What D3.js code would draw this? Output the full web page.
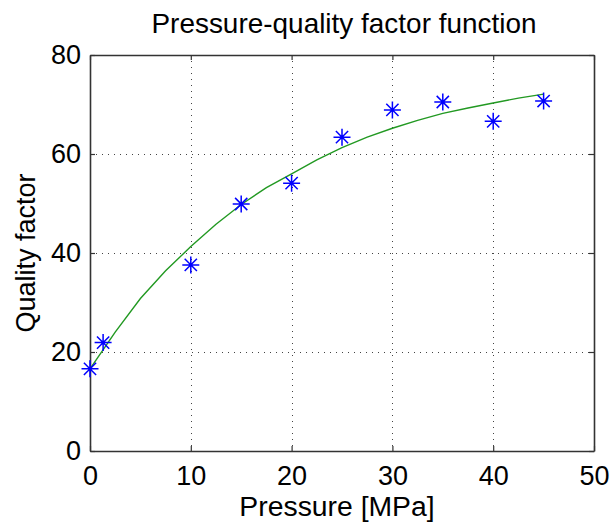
<!DOCTYPE html>
<html>
<head>
<meta charset="utf-8">
<script src="https://cdn.jsdelivr.net/npm/d3@7"></script>
<style>
  html, body { margin: 0; padding: 0; background: #fff; }
  svg { display: block; }
  text { font-family: "Liberation Sans", Arial, Helvetica, sans-serif; fill: #000; }
</style>
</head>
<body>
<svg id="chart" width="611" height="524"></svg>
<script>
// ---- data ----
const measuredPressure = [0, 1.3, 10, 15, 20, 25, 30, 35, 40, 45];
const measuredQuality  = [16.6, 21.9, 37.6, 49.9, 54.1, 63.4, 68.9, 70.5, 66.6, 70.7];
const fitPressure = [0, 2.5, 5, 7.5, 10, 12.5, 15, 17.5, 20, 22.5, 25, 27.5, 30, 32.5, 35, 37.5, 40, 42.5, 45];
const fitQuality  = [16.6, 24.0, 30.8, 36.4, 41.3, 45.8, 49.8, 53.2, 56.0, 58.8, 61.3, 63.4, 65.2, 66.8, 68.2, 69.3, 70.3, 71.3, 72.1];
const xTicks = [0, 10, 20, 30, 40, 50];
const yTicks = [0, 20, 40, 60, 80];
const titleText = "Pressure-quality factor function";
const xLabelText = "Pressure [MPa]";
const yLabelText = "Quality factor";

// ---- layout ----
const svg = d3.select("#chart");
const mLeft = 90, mRight = 594, mTop = 55, mBottom = 451;
const x = d3.scaleLinear().domain([0, 50]).range([mLeft, mRight]);
const y = d3.scaleLinear().domain([0, 80]).range([mBottom, mTop]);
const fontSize = 27;
const axisColor = "#333";
const tickLen = 5;

// grid (dotted)
const grid = svg.append("g");
grid.selectAll("line.gx").data(xTicks.slice(1, -1)).join("line")
  .attr("x1", d => Math.round(x(d)) + 0.5).attr("x2", d => Math.round(x(d)) + 0.5)
  .attr("y1", mTop).attr("y2", mBottom)
  .attr("stroke", "#444").attr("stroke-width", 1).attr("stroke-dasharray", "1,5");
grid.selectAll("line.gy").data(yTicks.slice(1, -1)).join("line")
  .attr("y1", d => Math.round(y(d)) + 0.5).attr("y2", d => Math.round(y(d)) + 0.5)
  .attr("x1", mLeft).attr("x2", mRight)
  .attr("stroke", "#444").attr("stroke-width", 1).attr("stroke-dasharray", "1,5");

// axes (bottom & left with labels, top & right mirror ticks)
const xAxis = d3.axisBottom(x).tickValues(xTicks).tickSizeInner(-tickLen).tickSizeOuter(0).tickPadding(15);
const yAxis = d3.axisLeft(y).tickValues(yTicks).tickSizeInner(-tickLen).tickSizeOuter(0).tickPadding(9);
const xAxisTop = d3.axisTop(x).tickValues(xTicks).tickSizeInner(-tickLen).tickSizeOuter(0).tickFormat("");
const yAxisRight = d3.axisRight(y).tickValues(yTicks).tickSizeInner(-tickLen).tickSizeOuter(0).tickFormat("");

function styleAxis(g) {
  g.select(".domain").attr("stroke", axisColor).attr("stroke-width", 1.6);
  g.selectAll(".tick line").attr("stroke", axisColor).attr("stroke-width", 1.2);
  g.selectAll(".tick text").attr("font-size", fontSize)
    .attr("font-family", '"Liberation Sans", Arial, Helvetica, sans-serif').attr("fill", "#000");
}
svg.append("g").attr("transform", `translate(0,${mBottom})`).call(xAxis).call(styleAxis);
svg.append("g").attr("transform", `translate(${mLeft},0)`).call(yAxis).call(styleAxis);
svg.append("g").attr("transform", `translate(0,${mTop})`).call(xAxisTop).call(styleAxis);
svg.append("g").attr("transform", `translate(${mRight},0)`).call(yAxisRight).call(styleAxis);

// fitted curve
const line = d3.line().x((d, i) => x(fitPressure[i])).y(d => y(d));
svg.append("path").datum(fitQuality)
  .attr("d", line).attr("fill", "none")
  .attr("stroke", "#229922").attr("stroke-width", 1.4);

// asterisk markers
const r = 8.5, rd = r * 0.72;
const star = `M${-r},0L${r},0M0,${-r}L0,${r}M${-rd},${-rd}L${rd},${rd}M${-rd},${rd}L${rd},${-rd}`;
svg.append("g").selectAll("path").data(measuredQuality).join("path")
  .attr("transform", (d, i) => `translate(${x(measuredPressure[i])},${y(d)})`)
  .attr("d", star).attr("stroke", "#0000ff").attr("stroke-width", 1.5).attr("fill", "none");

// title & labels (slightly widened like the reference)
const cx = (mLeft + mRight) / 2;
svg.append("text").attr("transform", `translate(${cx + 2},33) scale(1.035,1)`)
  .attr("text-anchor", "middle").attr("font-size", fontSize).text(titleText);
svg.append("text").attr("transform", `translate(${cx - 5},516) scale(1.05,1)`)
  .attr("text-anchor", "middle").attr("font-size", fontSize).text(xLabelText);
svg.append("text").attr("transform", `translate(35,${(mTop + mBottom) / 2}) rotate(-90)`)
  .attr("text-anchor", "middle").attr("font-size", fontSize).text(yLabelText);
</script>
</body>
</html>
